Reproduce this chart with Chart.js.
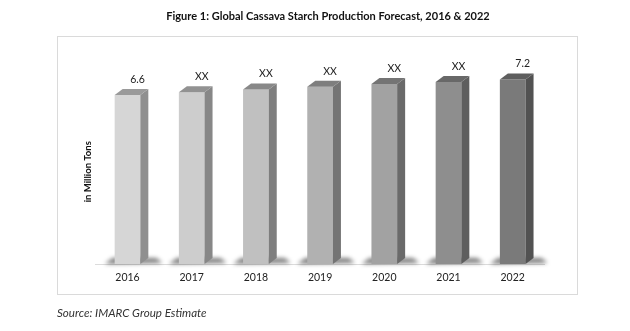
<!DOCTYPE html>
<html>
<head>
<meta charset="utf-8">
<script src="https://cdn.jsdelivr.net/npm/chart.js@4.4.0/dist/chart.umd.min.js"></script>
<style>
  html, body { margin: 0; padding: 0; background: #fff; }
</style>
</head>
<body>
<canvas id="cassavaChart" width="630" height="331"></canvas>
<script>
// ===== Data =====
const years = ["2016", "2017", "2018", "2019", "2020", "2021", "2022"];
const production = [6.6, 6.7, 6.81, 6.92, 7.02, 7.1, 7.2];
const valueLabels = ["6.6", "XX", "XX", "XX", "XX", "XX", "7.2"];

// ===== Styles =====
const frontColors = ["#d6d6d6", "#cdcdcd", "#c0c0c0", "#b1b1b1", "#a2a2a2", "#8e8e8e", "#7a7a7a"];
const sideColors = ["#8f8f8f", "#878787", "#7e7e7e", "#747474", "#6a6a6a", "#5e5e5e", "#525252"];
const topColors = ["#9a9a9a", "#929292", "#888888", "#7e7e7e", "#747474", "#686868", "#5e5e5e"];
const FONT = "Lato, 'Liberation Sans', sans-serif";
const DEPTH_X = 8;
const DEPTH_Y = 6;

// frame, title, source note
const pagePlugin = {
  id: "page",
  beforeDraw(chart) {
    const ctx = chart.ctx;
    ctx.save();
    ctx.fillStyle = "#fff";
    ctx.fillRect(0, 0, chart.width, chart.height);
    ctx.strokeStyle = "#dadada";
    ctx.lineWidth = 1;
    ctx.strokeRect(57.5, 36.5, 520, 258);

    ctx.fillStyle = "#111";
    ctx.font = "bold 11px " + FONT;
    ctx.textAlign = "center";
    ctx.textBaseline = "middle";
    ctx.fillText("Figure 1: Global Cassava Starch Production Forecast, 2016 & 2022", 328, 16);

    ctx.fillStyle = "#333";
    ctx.font = "italic 11.6px " + FONT;
    ctx.textAlign = "left";
    ctx.fillText("Source: IMARC Group Estimate", 57, 313);
    ctx.restore();
  },
};

// floor shadow under each bar
const shadowPlugin = {
  id: "barShadow",
  beforeDatasetsDraw(chart) {
    const ctx = chart.ctx;
    const meta = chart.getDatasetMeta(0);
    ctx.save();
    ctx.filter = "blur(2px)";
    ctx.fillStyle = "rgba(0,0,0,0.5)";
    meta.data.forEach((bar) => {
      const l = bar.x - bar.width / 2;
      const r = bar.x + bar.width / 2;
      const b = bar.base;
      ctx.beginPath();
      ctx.moveTo(l - 10, b);
      ctx.lineTo(r + DEPTH_X + 14, b - 1);
      ctx.lineTo(r + DEPTH_X + 8, b - DEPTH_Y);
      ctx.lineTo(l - 2, b - DEPTH_Y);
      ctx.closePath();
      ctx.fill();
    });
    ctx.restore();
  },
};

// top and side faces + value labels
const cubePlugin = {
  id: "cube",
  afterDatasetsDraw(chart) {
    const ctx = chart.ctx;
    const meta = chart.getDatasetMeta(0);
    ctx.save();
    meta.data.forEach((bar, i) => {
      const l = bar.x - bar.width / 2;
      const r = bar.x + bar.width / 2;
      const t = bar.y;
      const b = bar.base;

      // side
      ctx.fillStyle = sideColors[i];
      ctx.beginPath();
      ctx.moveTo(r, t);
      ctx.lineTo(r + DEPTH_X, t - DEPTH_Y);
      ctx.lineTo(r + DEPTH_X, b - DEPTH_Y);
      ctx.lineTo(r, b);
      ctx.closePath();
      ctx.fill();

      // top
      ctx.fillStyle = topColors[i];
      ctx.beginPath();
      ctx.moveTo(l, t);
      ctx.lineTo(l + DEPTH_X, t - DEPTH_Y);
      ctx.lineTo(r + DEPTH_X, t - DEPTH_Y);
      ctx.lineTo(r, t);
      ctx.closePath();
      ctx.fill();

      // label
      ctx.fillStyle = "#222";
      ctx.font = "10.5px " + FONT;
      ctx.textAlign = "center";
      ctx.textBaseline = "middle";
      ctx.fillText(valueLabels[i], bar.x + 10, t - 15.5);
    });
    ctx.restore();
  },
};

const canvas = document.getElementById("cassavaChart");
const ctx = canvas.getContext("2d");

const cassavaChart = new Chart(ctx, {
  type: "bar",
  data: {
    labels: years,
    datasets: [
      {
        label: "Production",
        data: production,
        backgroundColor: (c) => {
          const bar = c.element;
          const col = frontColors[c.dataIndex];
          if (!bar || !bar.width) return col;
          const l = bar.x - bar.width / 2;
          const g = c.chart.ctx.createLinearGradient(l, 0, l + bar.width, 0);
          g.addColorStop(0, col);
          g.addColorStop(0.6, col);
          g.addColorStop(1, sideColors[c.dataIndex]);
          return g;
        },
        borderWidth: 0,
        categoryPercentage: 1,
        barPercentage: 0.4,
        clip: false,
      },
    ],
  },
  options: {
    responsive: false,
    animation: false,
    devicePixelRatio: 1,
    layout: {
      padding: { left: 80, right: 85.2, top: 79.5, bottom: 37 },
    },
    plugins: {
      legend: { display: false },
      tooltip: { enabled: false },
    },
    scales: {
      x: {
        grid: { display: false, drawTicks: false },
        border: { display: true, color: "#dcdcdc" },
        ticks: {
          color: "#222",
          padding: 7,
          font: { family: FONT, size: 10.5 },
        },
        afterFit: (axis) => { axis.height = 30; },
      },
      y: {
        min: 0,
        max: 7.2,
        grid: { display: false, drawTicks: false },
        border: { display: false },
        ticks: { display: false },
        title: {
          display: true,
          text: "in Million Tons",
          color: "#111",
          padding: { top: 2, bottom: 0 },
          font: { family: FONT, size: 9.5, weight: "bold" },
        },
        afterFit: (axis) => { axis.width = 15.4; },
      },
    },
  },
  plugins: [pagePlugin, shadowPlugin, cubePlugin],
});
</script>
</body>
</html>
